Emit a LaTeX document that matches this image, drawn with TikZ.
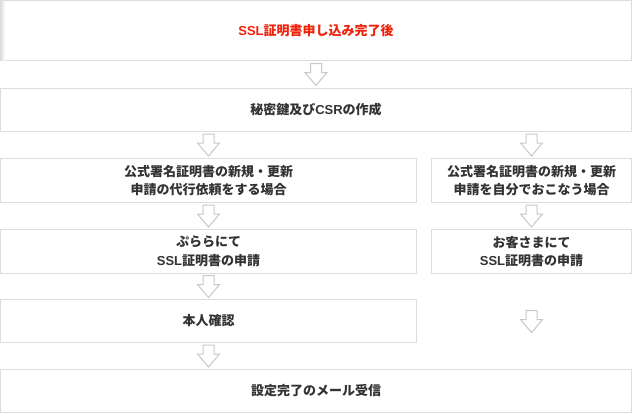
\documentclass[tikz,border=0pt]{standalone}
\usepackage{fontspec}
\newfontfamily\jp{Noto Sans CJK JP}
\newfontfamily\lat{Liberation Sans}
\usetikzlibrary{calc}
\definecolor{txt}{HTML}{333333}
\definecolor{redtxt}{HTML}{F0220A}
\definecolor{bord}{HTML}{DDDDDD}
\definecolor{arrc}{HTML}{C8C8C8}
\newcommand{\ltn}[1]{{\lat\bfseries #1}}
\tikzset{
  box/.style={draw=bord, line width=1pt, fill=white, inner sep=0pt, align=center,
    font=\jp\bfseries\fontsize{13}{18.5}\selectfont, text=txt},
  arrline/.style={draw=arrc, line width=1pt, fill=white, line join=miter},
  downarr/.pic={\path[arrline] (-5.5,-11) -- (5.5,-11) -- (5.5,-2) -- (11,-2) -- (0,11) -- (-11,-2) -- (-5.5,-2) -- cycle;}
}
\begin{document}
\begin{tikzpicture}[x=1pt,y=-1pt]
\useasboundingbox (0,0) rectangle (632,413);
\fill[white] (0,0) rectangle (632,413);
% row 1
\node[box, minimum width=631pt, minimum height=60pt, text=redtxt] (a) at (316,30.5) {\ltn{SSL}証明書申し込み完了後};
\shade[left color=black!12, right color=white] (1,1) rectangle (5,60);
% row 2
\node[box, minimum width=631pt, minimum height=43pt] (b) at (316,110) {秘密鍵及び\ltn{CSR}の作成};
% row 3
\node[box, minimum width=416pt, minimum height=44pt] (r3l) at (208.5,180.5) {公式署名証明書の新規・更新\\申請の代行依頼をする場合};
\node[box, minimum width=200pt, minimum height=44pt] (r3r) at (531.5,180.5) {公式署名証明書の新規・更新\\申請を自分でおこなう場合};
% row 4
\node[box, minimum width=416pt, minimum height=44pt] (r4l) at (208.5,251.5) {ぷららにて\\\ltn{SSL}証明書の申請};
\node[box, minimum width=200pt, minimum height=44pt] (r4r) at (531.5,251.5) {お客さまにて\\\ltn{SSL}証明書の申請};
% row 5
\node[box, minimum width=416pt, minimum height=43pt] (r5l) at (208.5,321) {本人確認};
% row 6
\node[box, minimum width=631pt, minimum height=43pt] (r6) at (316,391) {設定完了のメール受信};
% arrows
\pic at ($(a.south)!0.5!(b.north)$) {downarr};
\pic at ($(b.south -| r3l.north)!0.5!(r3l.north)$) {downarr};
\pic at ($(b.south -| r3r.north)!0.5!(r3r.north)$) {downarr};
\pic at ($(r3l.south)!0.5!(r4l.north)$) {downarr};
\pic at ($(r3r.south)!0.5!(r4r.north)$) {downarr};
\pic at ($(r4l.south)!0.5!(r5l.north)$) {downarr};
\pic at ($(r4r.south)!0.5!(r6.north -| r4r.south)$) {downarr};
\pic at ($(r5l.south)!0.5!(r6.north -| r5l.south)$) {downarr};
\end{tikzpicture}
\end{document}
